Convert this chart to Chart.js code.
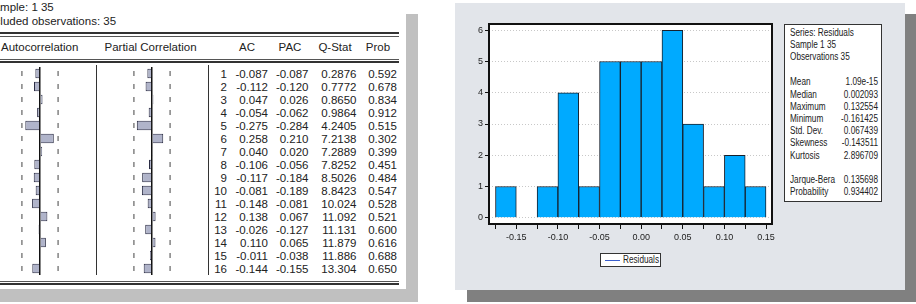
<!DOCTYPE html>
<html><head><meta charset="utf-8">
<script src="https://cdn.jsdelivr.net/npm/chart.js@4"></script>
<style>
html,body{margin:0;padding:0;width:916px;height:304px;overflow:hidden;background:#fff;}
body{position:relative;font-family:"Liberation Sans",Arial,sans-serif;color:#222;}
.abs{position:absolute;}
.t{position:absolute;white-space:nowrap;}
canvas{position:absolute;display:block;}
</style>
</head><body>
<script>
// ---------- DATA ----------
const sampleText = 'Sample: 1 35';
const obsText = 'Included observations: 35';
const headerLabels = ['Autocorrelation', 'Partial Correlation', 'AC', 'PAC', 'Q-Stat', 'Prob'];
const lags = [1,2,3,4,5,6,7,8,9,10,11,12,13,14,15,16];
const acValues  = [-0.087,-0.112,0.047,-0.054,-0.275,0.258,0.040,-0.106,-0.117,-0.081,-0.148,0.138,-0.026,0.110,-0.011,-0.144];
const pacValues = [-0.087,-0.120,0.026,-0.062,-0.284,0.210,0.020,-0.056,-0.184,-0.189,-0.081,0.067,-0.127,0.065,-0.038,-0.155];
const qStats = ['0.2876','0.7772','0.8650','0.9864','4.2405','7.2138','7.2889','7.8252','8.5026','8.8423','10.024','11.092','11.131','11.879','11.886','13.304'];
const probs  = ['0.592','0.678','0.834','0.912','0.515','0.302','0.399','0.451','0.484','0.547','0.528','0.521','0.600','0.616','0.688','0.650'];
const confBound = 0.338;

const seriesName = 'Residuals';
const binCenters = [-0.1625,-0.1375,-0.1125,-0.0875,-0.0625,-0.0375,-0.0125,0.0125,0.0375,0.0625,0.0875,0.1125,0.1375];
const binCounts  = [1,0,1,4,1,5,5,5,6,3,1,2,1];
const xMin = -0.1828, xMax = 0.1572, xStep = 0.025, xLabelStep = 0.05;
const yMin = -0.2, yMax = 6.2, yStep = 1;

const statHeader = ['Series: Residuals', 'Sample 1 35', 'Observations 35'];
const statNames  = ['Mean','Median','Maximum','Minimum','Std. Dev.','Skewness','Kurtosis','','Jarque-Bera','Probability'];
const statValues = ['1.09e-15','0.002093','0.132554','-0.161425','0.067439','-0.143511','2.896709','','0.135698','0.934402'];

// ---------- helpers ----------
function box(x, y, w, h, bg, extra) {
  const d = document.createElement('div');
  d.className = 'abs';
  d.style.cssText = `left:${x}px;top:${y}px;width:${w}px;height:${h}px;background:${bg};` + (extra || '');
  document.body.appendChild(d);
  return d;
}
function txt(s, x, yc, align, size, sx) {
  const d = document.createElement('div');
  d.className = 't';
  const lh = Math.round(size * 1.2);
  d.style.fontSize = size + 'px';
  d.style.lineHeight = lh + 'px';
  d.style.top = (yc - lh / 2) + 'px';
  d.style.left = x + 'px';
  const sc = sx ? ` scaleX(${sx})` : '';
  if (align === 'right') { d.style.transformOrigin = '100% 50%'; d.style.transform = 'translateX(-100%)' + sc; }
  else if (align === 'center') { d.style.transformOrigin = '50% 50%'; d.style.transform = 'translateX(-50%)' + sc; }
  else { d.style.transformOrigin = '0 50%'; if (sc) d.style.transform = sc; }
  d.textContent = s;
  document.body.appendChild(d);
  return d;
}
function canvasAt(x, y, w, h) {
  const c = document.createElement('canvas');
  c.width = w; c.height = h;
  c.style.left = x + 'px'; c.style.top = y + 'px';
  c.style.width = w + 'px'; c.style.height = h + 'px';
  document.body.appendChild(c);
  return c;
}

// ---------- LEFT PANEL (correlogram) ----------
box(406, 14, 12, 288, '#c0c0c0');
box(0, 289, 418, 13, '#c0c0c0');
const F = 11.5;
txt(sampleText, -14, 7, 'left', F);
txt(obsText, -15, 20.5, 'left', F);
box(0, 32, 399, 2, '#333');
box(0, 35.5, 399, 1, '#555');
box(0, 58.5, 399, 1, '#555');
box(0, 61, 399, 2, '#333');
box(0, 280.5, 399, 1, '#555');
box(0, 283, 399, 2, '#333');
txt(headerLabels[0], 1, 47, 'left', F);
txt(headerLabels[1], 104.5, 47, 'left', F);
txt(headerLabels[2], 247, 47, 'center', F);
txt(headerLabels[3], 290, 47, 'center', F);
txt(headerLabels[4], 335, 47, 'center', F);
txt(headerLabels[5], 378, 47, 'center', F);
box(96, 65, 1, 210, '#333');
box(208, 65, 1, 210, '#333');
lags.forEach((lag, i) => {
  const yc = 73.5 + 13 * i;
  txt(String(lag), 227, yc, 'right', F);
  txt(acValues[i].toFixed(3), 268, yc, 'right', F);
  txt(pacValues[i].toFixed(3), 308.5, yc, 'right', F);
  txt(qStats[i], 356.5, yc, 'right', F);
  txt(probs[i], 397, yc, 'right', F);
});

function correlogram(canvas, values) {
  return new Chart(canvas.getContext('2d'), {
    type: 'bar',
    data: {
      labels: lags.map(String),
      datasets: [
        { type: 'bar', data: values, backgroundColor: '#b0b4ca', borderColor: '#2a2c44', borderWidth: 1,
          barPercentage: 0.72, categoryPercentage: 1, order: 2 },
        { type: 'line', data: lags.map(l => ({ x: -confBound, y: String(l) })), showLine: false,
          pointStyle: 'line', rotation: 90, radius: 2.5, borderColor: '#444', borderWidth: 1, order: 1 },
        { type: 'line', data: lags.map(l => ({ x: confBound, y: String(l) })), showLine: false,
          pointStyle: 'line', rotation: 90, radius: 2.5, borderColor: '#444', borderWidth: 1, order: 1 }
      ]
    },
    options: {
      indexAxis: 'y',
      responsive: false, animation: false, devicePixelRatio: 1,
      layout: { padding: 0, autoPadding: false },
      plugins: { legend: { display: false }, tooltip: { enabled: false } },
      scales: {
        x: { type: 'linear', min: -0.748, max: 0.748, display: true,
             ticks: { display: false },
             grid: { drawTicks: false, lineWidth: 1.5,
                     color: c => (c.tick && c.tick.value === 0) ? '#111' : 'rgba(0,0,0,0)' },
             border: { display: false },
             afterBuildTicks: s => { s.ticks = [{ value: 0 }]; },
             afterFit: s => { s.height = 0; } },
        y: { type: 'category', display: false, offset: true }
      }
    }
  });
}
correlogram(canvasAt(0, 67, 80, 208), acValues);
correlogram(canvasAt(112, 67, 80, 208), pacValues);

// ---------- RIGHT PANEL (histogram) ----------
box(905, 14, 11, 288, '#808080');
box(467, 290, 449, 12, '#808080');
box(455, 3, 450, 287, '#e2e5ea');

const frame = {
  id: 'frame',
  afterDatasetsDraw(chart) {
    const a = chart.chartArea, ctx = chart.ctx;
    ctx.save();
    ctx.strokeStyle = '#111';
    ctx.lineWidth = 2;
    ctx.strokeRect(a.left, a.top, a.right - a.left, a.bottom - a.top);
    ctx.restore();
  }
};
const plotBg = {
  id: 'plotBg',
  beforeDraw(chart) {
    const a = chart.chartArea, ctx = chart.ctx;
    ctx.save(); ctx.fillStyle = '#fff';
    ctx.fillRect(a.left, a.top, a.right - a.left, a.bottom - a.top);
    ctx.restore();
  }
};
const NF = '"Liberation Sans", Arial, sans-serif';
new Chart(canvasAt(460, 15, 320, 235).getContext('2d'), {
  type: 'bar',
  data: {
    datasets: [{
      label: seriesName,
      data: binCenters.map((c, i) => ({ x: c, y: binCounts[i] })),
      backgroundColor: '#00aaff', borderColor: '#17202c', borderWidth: 1,
      barPercentage: 1, categoryPercentage: 1
    }]
  },
  options: {
    responsive: false, animation: false, devicePixelRatio: 1,
    layout: { padding: { left: 0, top: 9, right: 8, bottom: 0 }, autoPadding: false },
    plugins: { legend: { display: false }, tooltip: { enabled: false } },
    scales: {
      x: { type: 'linear', min: xMin, max: xMax, offset: false,
           grid: { offset: false, drawOnChartArea: false, drawTicks: true, tickLength: 5, color: '#111', tickColor: '#111' },
           border: { display: false },
           ticks: { stepSize: xStep, includeBounds: false, autoSkip: false, maxRotation: 0, minRotation: 0,
                    padding: 3, color: '#222', font: { family: NF, size: 9 },
                    callback: v => {
                      const k = v / xLabelStep;
                      return Math.abs(k - Math.round(k)) < 1e-6 ? (Math.round(k) * xLabelStep).toFixed(2) : '';
                    } },
           afterFit: s => { s.height = 26; } },
      y: { type: 'linear', min: yMin, max: yMax,
           grid: { color: '#c8c8c8', tickColor: '#111', tickLength: 4, tickBorderDash: [], lineWidth: 1 },
           border: { display: false, dash: [1, 2] },
           ticks: { stepSize: yStep, includeBounds: false, padding: 2, color: '#222', font: { family: NF, size: 9 } },
           afterFit: s => { s.width = 29; } }
    }
  },
  plugins: [plotBg, frame]
});

// legend
box(600, 253, 61, 14, '#fff', 'border:1px solid #333;box-sizing:border-box;');
box(605, 259.5, 15, 1.2, '#3a5fcd');
txt(seriesName, 622.5, 260, 'left', 10, 0.82);

// stats box
const SX = 0.82;
box(784, 24, 98, 178, '#fff', 'border:1px solid #333;box-sizing:border-box;');
statHeader.forEach((s, i) => txt(s, 790, 33.3 + 12 * i, 'left', 10, SX));
statNames.forEach((s, i) => {
  if (!s) return;
  const yc = 82.3 + 12.2 * i;
  txt(s, 790, yc, 'left', 10, SX);
  txt(statValues[i], 877.5, yc, 'right', 10, SX);
});
</script>
</body></html>
